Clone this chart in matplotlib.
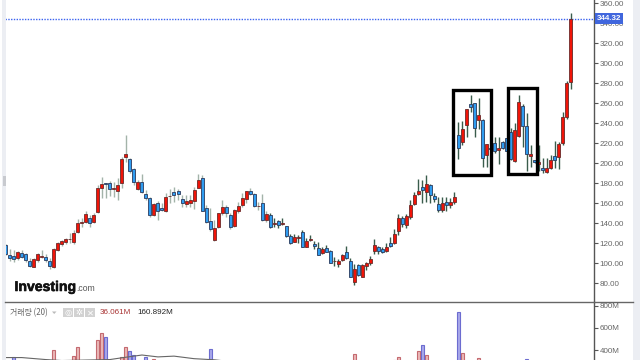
import numpy as np
import matplotlib
matplotlib.use("Agg")
import matplotlib.pyplot as plt
from matplotlib.patches import Rectangle
import matplotlib.patheffects as pe

opens = [118,107.7,107,104.7,110.3,108.7,102,96.3,102.7,106.5,
 106.3,102,96.3,113.3,119.3,121.3,123.7,120.7,131.3,140.4,
 141,145,141.3,151,175,179.7,179.7,174,171.7,179.7,
 205.7,203.7,194.3,173.7,181,169,165,148.3,159.7,154.7,
 152.3,166.8,170.7,171.7,164,159,160.3,162.3,175.3,185,
 155,142.3,123,135.7,149.7,155.7,147.7,137,152.3,157.7,
 163.7,171.7,168.7,157.1,159.7,143,148.3,139.5,141.7,139.5,
 137,126.7,121.3,124.7,130.7,116.3,123.5,119,114.7,109.7,
 114.7,112.3,101.8,99,103.3,110.7,101.7,81.3,98,86.3,
 97,100.3,111.7,116.3,114.3,112.3,120.3,119.7,131.7,144.7,
 137.7,146.3,158.7,169.3,176.3,170.7,177.7,166.7,159,153,
 161.3,158.3,161,227.7,221.3,237.7,259,259.7,243.3,243,
 207.7,215,219.7,213,221.3,224.7,231.3,201.7,227.3,257.3,
 236.7,207.3,203,199,194.7,190.7,195.3,207.3,205.7,219.7,
 245.7,281.3]
highs = [119,114,113,112,113,109.7,104.7,105.3,109.7,113,
 108.7,104.7,114.7,120.7,123,124.7,129.7,133,143.7,144.7,
 152,148,150.3,178,186.3,180,182,181.3,184.7,205.7,
 228,204.7,195.3,183,188.7,173,165.7,159.7,162,159.7,
 169.7,174,175.7,173.7,168,168,168,175.7,188.7,188,
 158,154.7,143,149.9,163,158,149.7,153.7,161.3,169.7,
 172.3,175.3,169.7,160.7,168.7,152,149.7,144.7,143,145.3,
 137.5,129,129,128,133,124.7,127.7,122,120.7,116.3,
 118,112.8,105.7,103.7,109,117,105,99,99,98.7,
 101.3,107,123.7,117.3,116.3,120.3,125.7,133.7,148.7,147,
 148.7,163,171.3,183.7,183,188,179,170.3,166.3,166.3,
 165.7,164.7,171.3,241.3,242.3,253.9,268,260.3,264.7,243.7,
 219,216,225.7,225.7,222.3,225,235.3,239.7,268,259,
 249.7,218,203.5,218,204.7,204.7,208,222,221,250.7,
 282,350]
lows = [108,102.3,101.3,103,105.3,101.3,96.3,96,101.3,104.7,
 101.3,94,95.3,112,117.3,118.7,119.7,118.7,129.7,136,
 139.7,135.7,139.7,149.7,164.7,164.7,167,165.7,163,174.7,
 201.3,189.7,178,173,169.7,163,146.3,147,143,152.3,
 151.3,159.7,161.3,163,156.3,155.7,156.3,153.7,174.7,152.3,
 139.7,132.3,122.3,134.7,148,146.3,133.7,135.7,149.7,156,
 159.7,168,156.3,153,142.3,141.3,134.7,136.3,134.7,138,
 126.3,119,120.7,120.3,115.7,115.7,122,114.3,107.7,109,
 110.7,99.7,97,96.3,102.3,104,85.7,78,87,85.7,
 93,98.3,109,109,109.7,111.3,115.7,119,128.3,136.3,
 134.7,143.7,158,167.7,160,161.3,159.7,161.3,151,151,
 152.3,154.7,159,204,218,226.3,251.3,225.7,233.7,196.3,
 195.7,213,209.7,199,214.3,212,203,201,226.3,216.3,
 192.3,195.7,200.5,192.3,190,189.7,194.5,194.7,194.3,218,
 243.7,273.7]
closes = [109,104.7,103.7,110.7,106.3,102.7,97.3,103.7,108.7,107,
 102.7,97.3,114,119.7,121.7,123.7,124.3,129.7,140.3,140.9,
 148.7,139.7,147.7,174.7,178.7,178.7,174,174.7,177.7,203.7,
 208.7,191.7,180.7,181,171.3,164.7,147.7,158.7,151.7,153,
 165.7,167.2,167.7,169.3,160.3,162.3,163,173,182.7,152.5,
 141,133.7,135,149.7,155.7,149.7,135.7,153,157,165,
 171.7,169,157,157.5,143,149,135.7,139.9,138.3,139.9,
 127,120.3,126.3,126.3,116.3,122.3,123.9,117,108.3,114.3,
 111.3,100.3,102.2,102.3,107.7,104.7,86.3,94.3,88.3,97.7,
 99.7,103.7,118.3,111.7,111.3,116.3,117,128.7,144.7,139,
 147.3,157.7,167.7,172.3,173,178.7,168.3,163.7,153,159.7,
 158.3,160.7,166,215.3,233.7,253.7,256.3,234.7,247.7,204.7,
 218.7,214,211.7,215,215.3,212.3,203.7,233,260.7,237.3,
 209,209,201,200.7,192.7,194.7,202.7,203.3,218.7,245.7,
 279.7,344.3]

vol_idx = [2,12,17,18,23,24,25,29,30,31,32,35,37,51,87,97,98,103,104,105,113,114,118,130]
vol_val = [334,400,345,430,490,557,520,335,424,394,355,340,318,406,364,313,340,388,442,355,741,370,325,316]
ma_idx = [0,4,7,10,14,26,29,34,38,42,47,52,55]
ma_val = [332,332,323,314,305,314,330,355,338,345,322,312,300]

price_ticks = [360,340,320,300,280,260,240,220,200,180,160,140,120,100,80]
vol_ticks = [800,600,400]
last_price = 344.32
box_x = [(111.7,121.1),(125.3,132.7)]
box_y = [(188.5,273),(189,275)]

W, H = 640, 360
fig = plt.figure(figsize=(6.4,3.6), dpi=100, facecolor="white")
plt.rcParams['font.family'] = ['Liberation Sans','Noto Sans CJK KR','DejaVu Sans']

def axpx(x0,y0,x1,y1):
    return fig.add_axes([x0/W, 1-y1/H, (x1-x0)/W, (y1-y0)/H])

for rx,rw in ((2,4),(633,7)):
    fig.patches.append(Rectangle((rx/W,0),rw/W,1,transform=fig.transFigure,fc="#eceef3",ec="none"))
fig.patches.append(Rectangle((3/W,1-186/H),3/W,10/H,transform=fig.transFigure,fc="#c8cacf",ec="none"))

x0_c, dx_c = 5.7, 4.007
xlim = ((5-x0_c)/dx_c, (593.5-x0_c)/dx_c)

ax = axpx(5,0,593.5,302)
ax.set_facecolor("none")
ax.set_xlim(*xlim)
ax.set_ylim(61,363)
idx = np.arange(len(opens))
o,h,l,c = map(np.array,(opens,highs,lows,closes))
up = c>=o
wick = np.where(idx<66,"#a3b3a9","#3a5c4c")
ax.vlines(idx,l,h,colors=wick,lw=1.0,zorder=2)
bw = 3.0/dx_c
ax.bar(idx[up],(c-o)[up],bottom=o[up],width=bw,color="#f01408",edgecolor="#6a2a2a",lw=0.6,zorder=3)
ax.bar(idx[~up],(o-c)[~up],bottom=c[~up],width=bw,color="#2f9cf0",edgecolor="#2b3a5c",lw=0.6,zorder=3)
for (a,b),(t,u) in zip(box_x,box_y):
    ax.add_patch(Rectangle((a,t),b-a,u-t,fc="none",ec="black",lw=2.4,zorder=5,joinstyle="miter"))
ax.axhline(last_price,color="#3a62f0",lw=1.0,ls=(0,(1,1)),zorder=1)

ax.set_xticks([])
for s in ("top","left","bottom"):
    ax.spines[s].set_visible(False)
ax.spines["right"].set_color("#555555")
ax.spines["right"].set_linewidth(1.0)
ax.yaxis.tick_right()
ax.set_yticks(price_ticks,[f"{t:.2f}" for t in price_ticks])
ax.tick_params(axis="y",length=3,width=0.8,color="#555555",labelcolor="#666666",labelsize=5.8,pad=1.5)

ax.annotate(f"{last_price:.2f}",xy=(1,last_price),xycoords=("axes fraction","data"),
            xytext=(15.5,0),textcoords="offset pixels",ha="center",va="center",
            color="white",fontsize=5.8,fontweight="bold",zorder=10,
            bbox=dict(boxstyle="square,pad=0.25",fc="#4066dd",ec="none"),annotation_clip=False)

vx = axpx(5,302,593.5,360)
vx.set_facecolor("none")
vx.set_xlim(*xlim)
vx.set_ylim(310,834)
vi = np.array(vol_idx); vv = np.array(vol_val)
vup = up[vi]
vx.bar(vi[vup],vv[vup]-300,bottom=300,width=bw,color="#ebb9b9",edgecolor="#c46a70",lw=0.8)
vx.bar(vi[~vup],vv[~vup]-300,bottom=300,width=bw,color="#a9a9ea",edgecolor="#6c6cd0",lw=0.8)
vx.plot(ma_idx,ma_val,color="#666666",lw=0.8,zorder=4)
vx.set_xticks([])
for s in ("top","left","bottom"):
    vx.spines[s].set_visible(False)
vx.spines["right"].set_color("#555555")
vx.spines["right"].set_linewidth(1.0)
vx.yaxis.tick_right()
vx.set_yticks(vol_ticks,[f"{t}M" for t in vol_ticks])
vx.tick_params(axis="y",length=3,width=0.8,color="#555555",labelcolor="#666666",labelsize=5.8,pad=1.5)

fig.add_artist(plt.Line2D([5/W,633/W],[1-302.3/H]*2,color="#666666",lw=1.0,transform=fig.transFigure))

def ft(xp,yp,s,**k):
    return fig.text(xp/W,1-yp/H,s,**k)

t = ft(14.5,291,"Investing",fontsize=10.1,fontweight="bold",color="#111111",va="baseline")
t.set_path_effects([pe.withStroke(linewidth=0.4,foreground="#111111")])
ft(76,291,".com",fontsize=6.2,color="#555555",va="baseline")
ft(10,312.5,"거래량 (20)",fontsize=5.7,color="#666666",va="center",family=['Noto Sans CJK KR','DejaVu Sans'])
fig.patches.append(plt.Polygon([(52/W,1-311.5/H),(56.5/W,1-311.5/H),(54.2/W,1-314/H)],transform=fig.transFigure,fc="#bbbbbb",ec="none"))
for bx,g in zip((63,74,85),("◎","✲","✕")):
    fig.patches.append(Rectangle((bx/W,1-317/H),10/W,9.5/H,transform=fig.transFigure,fc="#d2d2d2",ec="none"))
    ft(bx+5,312.7,g,fontsize=6,color="white",ha="center",va="center",family="DejaVu Sans")
ft(100,312.5,"36.061M",fontsize=5.8,color="#a83232",va="center")
ft(137,312.5,"160.892M",fontsize=5.8,color="#222222",va="center")

fig.savefig("out.png",dpi=100)
